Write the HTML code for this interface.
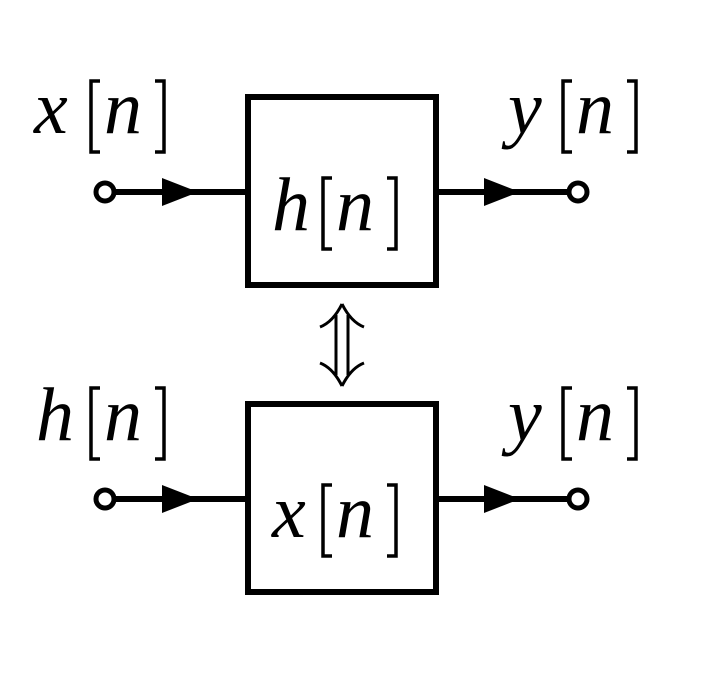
<!DOCTYPE html>
<html><head><meta charset="utf-8"><style>
html,body{margin:0;padding:0;background:#fff;}
svg{display:block}
text{font-family:"Liberation Serif",serif;font-size:76px;fill:#000;font-style:italic}
</style></head><body>
<svg width="719" height="691" viewBox="0 0 719 691" xmlns="http://www.w3.org/2000/svg">
<g fill="none" stroke="#000" stroke-width="6">
<rect x="248" y="97" width="188" height="188"/>
<rect x="248" y="404" width="188" height="188"/>
<line x1="115" y1="192" x2="248" y2="192"/>
<line x1="436" y1="192" x2="568" y2="192"/>
<line x1="115" y1="499" x2="248" y2="499"/>
<line x1="436" y1="499" x2="568" y2="499"/>
</g>
<g fill="#fff" stroke="#000" stroke-width="5">
<circle cx="105" cy="192" r="9"/><circle cx="578" cy="192" r="9"/>
<circle cx="105" cy="499" r="9"/><circle cx="578" cy="499" r="9"/>
</g>
<g fill="#000">
<polygon points="162,178 198,192 162,206"/>
<polygon points="484,178 520,192 484,206"/>
<polygon points="162,485 198,499 162,513"/>
<polygon points="484,485 520,499 484,513"/>
</g>
<g fill="none" stroke="#000" stroke-width="3">
<path d="M342,304 Q333,322 320,327 M342,304 Q351,322 364,327"/>
<path d="M342,386 Q333,368 320,363 M342,386 Q351,368 364,363"/>
<line x1="336" y1="315" x2="336" y2="375"/>
<line x1="348" y1="315" x2="348" y2="375"/>
</g>
<!-- brackets -->
<g fill="none" stroke="#000" stroke-width="3.5">
<path d="M100,81 H91 V152 H100 M155,81 H164 V152 H155"/>
<path d="M572,81 H563 V152 H572 M627,81 H636 V152 H627"/>
<path d="M332,178 H323 V249 H332 M387,178 H396 V249 H387"/>
<path d="M100,388 H91 V459 H100 M155,388 H164 V459 H155"/>
<path d="M572,388 H563 V459 H572 M627,388 H636 V459 H627"/>
<path d="M332,485 H323 V556 H332 M387,485 H396 V556 H387"/>
</g>
<text x="34" y="133">x</text><text x="104" y="133">n</text>
<text x="508" y="133">y</text><text x="576" y="133">n</text>
<text x="272" y="230">h</text><text x="336" y="230">n</text>
<text x="36" y="440">h</text><text x="104" y="440">n</text>
<text x="508" y="440">y</text><text x="576" y="440">n</text>
<text x="272" y="537">x</text><text x="336" y="537">n</text>
</svg>
</body></html>
